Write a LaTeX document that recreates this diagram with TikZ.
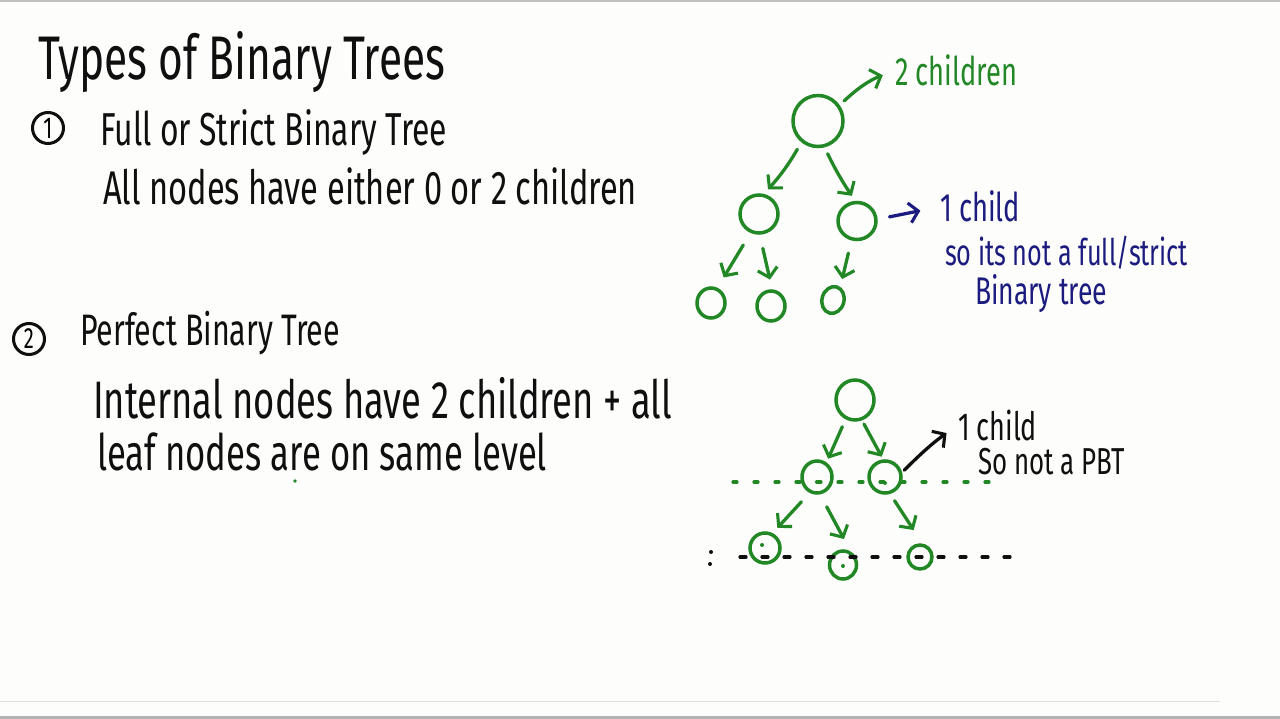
\documentclass[tikz,border=0pt]{standalone}
\usepackage{fontspec}
\setmainfont{Fira Sans}
\usetikzlibrary{arrows.meta,shapes.geometric}
\definecolor{pen}{RGB}{15,15,15}
\definecolor{gpen}{RGB}{34,136,38}
\definecolor{bpen}{RGB}{28,28,128}
\definecolor{paper}{RGB}{253,253,251}
\newcommand{\hw}[2]{\resizebox{#1}{!}{\scalebox{1}[1.45]{#2}}}
\begin{document}
\begin{tikzpicture}[x=1pt,y=-1pt,
  txt/.style={anchor=base west,inner sep=0pt,outer sep=0pt},
  gnode/.style={ellipse,draw=gpen,line width=3.5pt,inner sep=0pt},
  arrowbase/.style={line width=3.3pt,line cap=round,-{Straight Barb[length=9pt,width=20pt,line width=3.1pt]}},
  garr/.style={arrowbase,draw=gpen},
  barr/.style={arrowbase,draw=bpen},
  karr/.style={arrowbase,draw=pen},
  numc/.style={circle,draw=pen,line width=3pt,minimum size=31pt,inner sep=0pt}]
\useasboundingbox (0,0) rectangle (1280,719);
\fill[paper] (0,0) rectangle (1280,719);
% window chrome
\fill[black!25] (0,0) rectangle (1280,2.5);
\draw[black!12,line width=1pt] (0,701) -- (1220,701);
\fill[black!30] (0,716) rectangle (1280,719);

% ---------- left text ----------
\node[txt,text=pen] (title) at (38,80) {\hw{407pt}{Types of Binary Trees}};
\node[numc] (n1) at (48,128) {\hw{9pt}{1}};
\node[txt,text=pen] (h1) at (100,146) {\hw{347pt}{Full or Strict Binary Tree}};
\node[txt,text=pen] (d1) at (103,205) {\hw{534pt}{All nodes have either 0 or 2 children}};
\node[numc] (n2) at (29,339) {\hw{10pt}{2}};
\node[txt,text=pen] (h2) at (80,346) {\hw{260pt}{Perfect Binary Tree}};
\node[txt,text=pen] (d2) at (93,418) {\hw{579pt}{Internal nodes have 2 children + all}};
\node[txt,text=pen] (d3) at (97,470) {\hw{450pt}{leaf nodes are on same level}};
\fill[gpen] (295,481) circle (1.8pt);

% ---------- top tree ----------
\node[gnode,minimum width=50pt,minimum height=51pt] (A) at (818,121) {};
\node[gnode,minimum width=38pt,minimum height=38pt] (B) at (759,214) {};
\node[gnode,minimum width=38pt,minimum height=37pt] (C) at (857,221) {};
\node[gnode,minimum width=28pt,minimum height=30pt] (D) at (711,303) {};
\node[gnode,minimum width=28pt,minimum height=30pt] (E) at (771,306) {};
\node[gnode,minimum width=22pt,minimum height=27pt,rotate=-15] (F) at (833,300) {};

\node[txt,text=gpen] (l2c) at (895,86) {\hw{122pt}{2 children}};
\node[txt,text=bpen] (l1c) at (940,222) {\hw{80pt}{1 child}};
\node[txt,text=bpen] (lso) at (945,266) {\hw{243pt}{so its not a full/strict}};
\node[txt,text=bpen] (lbt) at (975,305) {\hw{132pt}{Binary tree}};

\draw[garr,shorten <=8pt,shorten >=6pt] (A.232) to[bend left=6] (B.76);
\draw[garr,shorten <=7pt,shorten >=6pt] (A.284) to[bend right=4] (C.95);
\draw[garr,shorten <=14pt,shorten >=12pt] (B.246) -- (D.67);
\draw[garr,shorten <=14pt,shorten >=10pt] (B.272) -- (E.86);
\draw[garr,shorten <=13pt,shorten >=8pt] (C.254) -- (F.76);
\draw[garr,shorten <=6pt,shorten >=13pt] (A.36) to[bend left=12] (l2c.west);
\draw[barr,shorten <=12pt,shorten >=20pt] (C.5) -- (l1c.west);

% ---------- bottom tree ----------
\node[gnode,minimum width=38pt,minimum height=40pt] (P) at (855,400) {};
\node[gnode,minimum width=30pt,minimum height=32pt] (Q) at (817,477) {};
\node[gnode,minimum width=32pt,minimum height=32pt] (R) at (885,477) {};
\node[gnode,minimum width=30pt,minimum height=30pt] (S) at (765,548) {};
\node[gnode,minimum width=27pt,minimum height=28pt] (T) at (843,565) {};
\node[gnode,minimum width=24pt,minimum height=24pt] (U) at (920,557) {};

\node[txt,text=pen] (k1c) at (958,440) {\hw{79pt}{1 child}};
\node[txt,text=pen] (kso) at (978,474) {\hw{147pt}{So not a PBT}};

\draw[garr,shorten <=8pt,shorten >=4pt] (P.244) -- (Q.57);
\draw[garr,shorten <=4pt,shorten >=3pt] (P.289) -- (R.96);
\draw[garr,shorten <=12pt,shorten >=7pt] (Q.245) -- (S.63);
\draw[garr,shorten <=14pt,shorten >=14pt] (Q.280) -- (T.61);
\draw[garr,shorten <=8pt,shorten >=16pt] (R.287) -- (U.80);
\draw[karr,shorten <=3pt,shorten >=14pt] (R.15) to[bend left=5] (k1c.west);

% level guide lines
\coordinate (g1) at (733,482);
\coordinate (g2) at (1000,482);
\draw[gpen,line width=3.2pt,line cap=round,dash pattern=on 4pt off 17pt] (g1) -- (g2);
\coordinate (k1) at (740,557);
\coordinate (k2) at (1020,557);
\draw[pen,line width=3.2pt,line cap=round,dash pattern=on 6pt off 16pt] (k1) -- (k2);
\fill[pen] (711,552) circle (2pt) (710,564) circle (2pt);
% small dots inside circles
\fill[gpen] (817,482) circle (2pt) (885,483) circle (2pt) (762,545) circle (2pt) (843,566) circle (2pt);
\end{tikzpicture}
\end{document}
